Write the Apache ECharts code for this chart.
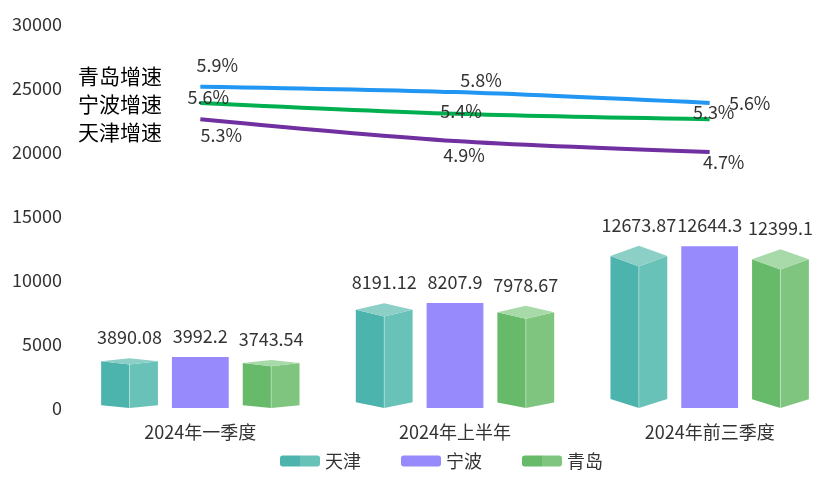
<!DOCTYPE html>
<html>
<head>
<meta charset="utf-8">
<script src="https://cdn.jsdelivr.net/npm/echarts@6/dist/echarts.min.js"></script>
<style>
  html, body { margin: 0; padding: 0; background: #fff; }
  #main { width: 837px; height: 484px; }
</style>
</head>
<body>
<div id="main"></div>
<script>
// 数据
const categories = ['2024年一季度', '2024年上半年', '2024年前三季度'];
const tianjin = [3890.08, 8191.12, 12673.87];
const ningbo = [3992.2, 8207.9, 12644.3];
const qingdao = [3743.54, 7978.67, 12399.1];
const tianjinRate = [5.3, 4.9, 4.7];
const ningboRate = [5.6, 5.4, 5.3];
const qingdaoRate = [5.9, 5.8, 5.6];

const FONT = '"Noto Sans CJK SC", sans-serif';

// 立体柱子
function box3d(offset, c, flat) {
  return function (params, api) {
    const idx = api.value(0);
    const bw = api.size([1, 0])[0];
    const base = api.coord([idx, 0]);
    const top = api.coord([idx, api.value(1)]);
    const cx = base[0] + offset * bw * 0.278;
    const w = bw * 0.223 / 2;
    const y0 = base[1];
    const yt = top[1];
    const h = y0 - yt;
    const label = {
      type: 'text',
      style: {
        text: String(api.value(1)),
        x: cx, y: yt - 21,
        align: 'center', verticalAlign: 'middle',
        fill: '#333', font: '18px ' + FONT
      }
    };
    if (flat) {
      return {
        type: 'group',
        children: [
          { type: 'rect', shape: { x: cx - w, y: yt, width: w * 2, height: h }, style: { fill: c[0] } },
          label
        ]
      };
    }
    const ys = yt + h * 0.063;
    const yf = yt + h * 0.127;
    const yb = y0 - h * 0.055;
    return {
      type: 'group',
      children: [
        { type: 'polygon', shape: { points: [[cx - w, ys], [cx, yf], [cx, y0], [cx - w, yb]] }, style: { fill: c[0] } },
        { type: 'polygon', shape: { points: [[cx, yf], [cx + w, ys], [cx + w, yb], [cx, y0]] }, style: { fill: c[1] } },
        { type: 'polygon', shape: { points: [[cx, yt], [cx + w, ys], [cx, yf], [cx - w, ys]] }, style: { fill: c[2] } },
        { type: 'line', shape: { x1: cx, y1: yf, x2: cx, y2: y0 }, style: { stroke: 'rgba(255,255,255,0.35)', lineWidth: 1 } },
        label
      ]
    };
  };
}

function split(a, b) {
  return new echarts.graphic.LinearGradient(0, 0, 1, 0, [
    { offset: 0, color: a }, { offset: 0.5, color: a },
    { offset: 0.5, color: b }, { offset: 1, color: b }
  ]);
}

function rateLine(name, data, color, offsets) {
  return {
    name: name,
    type: 'line',
    yAxisIndex: 1,
    smooth: 0.3,
    symbol: 'circle',
    symbolSize: 0.1,
    data: data.map(function (v, i) {
      return { value: v, label: { offset: offsets[i] } };
    }),
    lineStyle: { color: color, width: 4 },
    itemStyle: { color: color },
    label: {
      show: true,
      position: 'inside',
      formatter: '{c}%',
      color: '#333',
      fontSize: 18,
      fontFamily: FONT
    },
    z: 5
  };
}

const chart = echarts.init(document.getElementById('main'));

chart.setOption({
  animation: false,
  grid: { left: 73, top: 24, width: 767, height: 384 },
  legend: {
    data: ['天津', '宁波', '青岛'],
    left: 275,
    top: 447,
    itemWidth: 40,
    itemHeight: 11,
    itemGap: 40,
    textStyle: { color: '#333', fontSize: 18, fontFamily: FONT }
  },
  graphic: [
    { type: 'text', left: 78, top: 66, style: { text: '青岛增速', fill: '#000', font: '21px ' + FONT } },
    { type: 'text', left: 78, top: 94, style: { text: '宁波增速', fill: '#000', font: '21px ' + FONT } },
    { type: 'text', left: 78, top: 122, style: { text: '天津增速', fill: '#000', font: '21px ' + FONT } }
  ],
  xAxis: {
    type: 'category',
    data: categories,
    axisLine: { show: false },
    axisTick: { show: false },
    axisLabel: { color: '#333', fontSize: 18, fontFamily: FONT, margin: 15 }
  },
  yAxis: [{
    type: 'value',
    min: 0,
    max: 30000,
    interval: 5000,
    splitLine: { show: false },
    axisLine: { show: false },
    axisTick: { show: false },
    axisLabel: {
      color: '#333', fontSize: 18, fontFamily: FONT, margin: 11,
      formatter: function (v) { return String(v); }
    }
  }, {
    type: 'value',
    min: 0,
    max: 7.05,
    show: false
  }],
  series: [
    {
      name: '天津', type: 'custom',
      renderItem: box3d(-1, ['#4cb4ac', '#68c2b8', '#8bcfc6']),
      itemStyle: { color: split('#4cb4ac', '#68c2b8') },
      data: tianjin.map(function (v, i) { return [i, v]; })
    },
    {
      name: '宁波', type: 'custom',
      renderItem: box3d(0, ['#968afc'], true),
      itemStyle: { color: '#968afc' },
      data: ningbo.map(function (v, i) { return [i, v]; })
    },
    {
      name: '青岛', type: 'custom',
      renderItem: box3d(1, ['#66ba6a', '#7fc57f', '#a8d9a8']),
      itemStyle: { color: split('#66ba6a', '#7fc57f') },
      data: qingdao.map(function (v, i) { return [i, v]; })
    },
    rateLine('青岛增速', qingdaoRate, '#2196f3', [[17, -21], [26, -12], [40, 0]]),
    rateLine('宁波增速', ningboRate, '#00b050', [[8, -6], [6, -3], [4, -7]]),
    rateLine('天津增速', tianjinRate, '#7030a0', [[21, 16], [9, 14], [14, 10]])
  ]
});
</script>
</body>
</html>
